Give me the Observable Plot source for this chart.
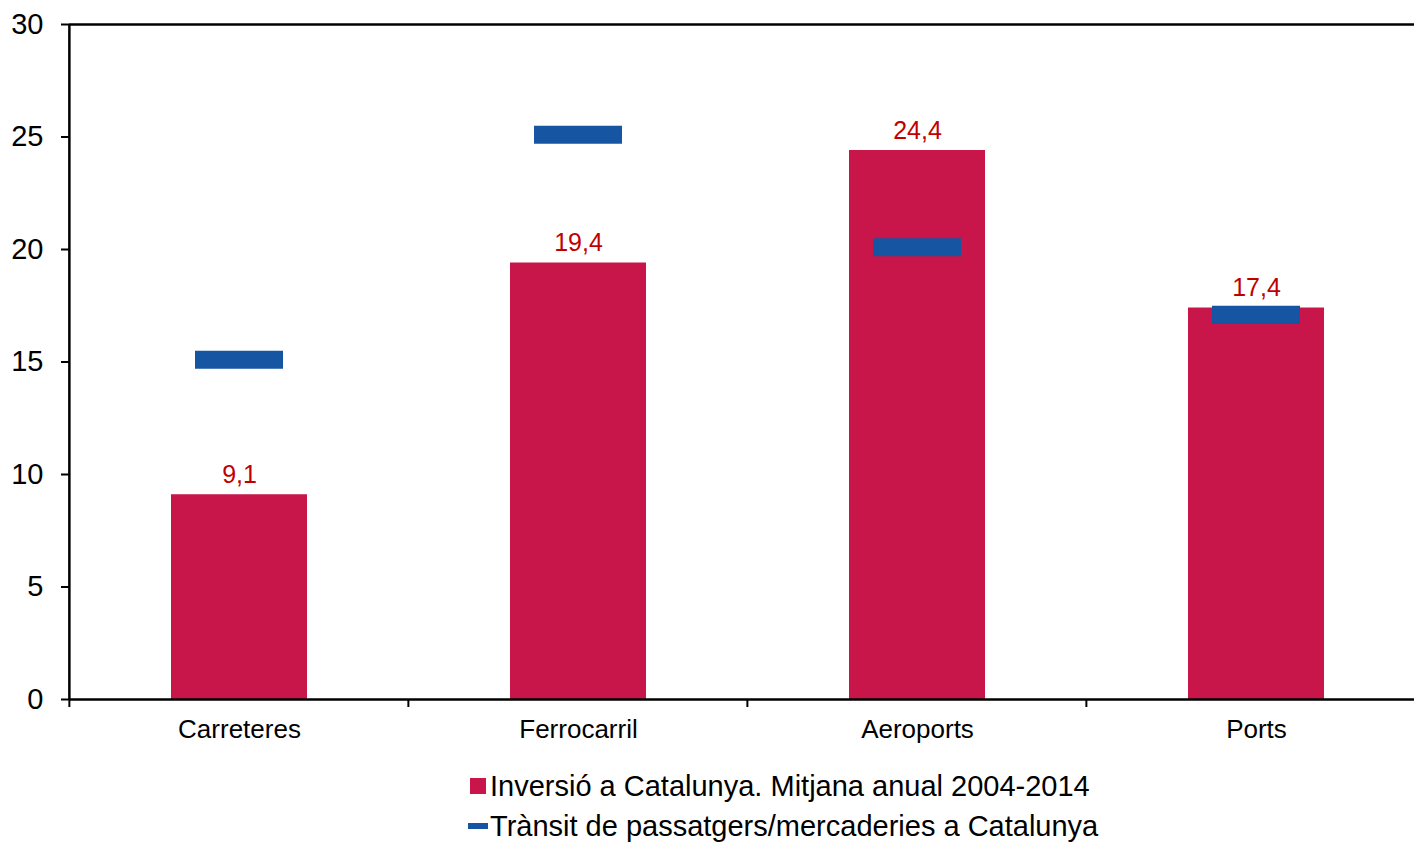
<!DOCTYPE html>
<html>
<head>
<meta charset="utf-8">
<script src="https://cdn.jsdelivr.net/npm/d3@7"></script>
<script src="https://cdn.jsdelivr.net/npm/@observablehq/plot@0.6"></script>
<style>
  html, body { margin: 0; padding: 0; background: #fff; }
  body { width: 1414px; height: 842px; overflow: hidden; font-family: "Liberation Sans", Arial, sans-serif; }
  #chart svg { display: block; overflow: hidden; }
  #legend { position: absolute; left: 466px; top: 766px; font-size: 29px; color: #000; }
  .row { display: flex; align-items: center; height: 40px; }
  .sw { width: 24px; display: flex; justify-content: center; align-items: center; }
</style>
</head>
<body>
<div id="chart"></div>
<div id="legend">
  <div class="row"><span class="sw"><span style="display:inline-block;width:16px;height:16px;background:#C8164A"></span></span><span id="l1"></span></div>
  <div class="row"><span class="sw"><span style="display:inline-block;width:20px;height:6px;background:#1655A2"></span></span><span id="l2"></span></div>
</div>
<script>
const categories = ["Carreteres", "Ferrocarril", "Aeroports", "Ports"];
const investment = [9.1, 19.4, 24.4, 17.4];
const traffic = [15.1, 25.1, 20.1, 17.1];
const yTicks = [0, 5, 10, 15, 20, 25, 30];
const seriesNames = ["Inversió a Catalunya. Mitjana anual 2004-2014", "Trànsit de passatgers/mercaderies a Catalunya"];

document.getElementById("l1").textContent = seriesNames[0];
document.getElementById("l2").textContent = seriesNames[1];

const data = categories.map((c, i) => ({cat: c, inv: investment[i], tr: traffic[i]}));

const width = 1414, marginLeft = 69, marginRight = -12;
const step = (width - marginLeft - marginRight) / categories.length;

const chart = Plot.plot({
  width,
  height: 760,
  marginLeft,
  marginRight,
  marginTop: 24,
  marginBottom: 61,
  style: {fontFamily: "Liberation Sans, Arial, sans-serif", background: "#fff", color: "#000"},
  x: {domain: categories, paddingInner: 0.6, paddingOuter: 0.3, label: null},
  y: {domain: [0, 30], label: null},
  marks: [
    Plot.barY(data, {x: "cat", y: "inv", fill: "#C8164A"}),
    Plot.tickY(data, {x: "cat", y: "tr", stroke: "#1655A2", strokeWidth: 18, insetLeft: 24, insetRight: 24}),
    Plot.text(data, {x: "cat", y: "inv", text: d => d3.format(".1f")(d.inv).replace(".", ","), lineAnchor: "bottom", dy: -12, fill: "#C00000", fontSize: 25}),
    Plot.axisY({ticks: yTicks, tickSize: 8, tickPadding: 18, fontSize: 29, strokeWidth: 2, tickFormat: d => d}),
    Plot.axisX({tickSize: 0, tickPadding: 20, fontSize: 26}),
    Plot.ruleY([0], {stroke: "#000", strokeWidth: 2.5}),
    Plot.ruleY([30], {stroke: "#000", strokeWidth: 2.5})
  ]
});
document.getElementById("chart").appendChild(chart);

// y-axis line and boundary ticks below the x-axis at band edges
const svg = d3.select(chart);
const xs = chart.scale("x");
const ys = chart.scale("y");
const bw = xs.bandwidth;
const edges = categories.map(c => xs.apply(c) - (step - bw) / 2);
edges.push(xs.apply(categories[categories.length - 1]) + bw + (step - bw) / 2);
const y0 = ys.apply(0), y30 = ys.apply(30);
const g = svg.append("g").attr("stroke", "#000").attr("stroke-width", 2);
g.selectAll("line.edge").data(edges).join("line").attr("class", "edge")
  .attr("x1", d => d).attr("x2", d => d)
  .attr("y1", y0).attr("y2", y0 + 8);
g.append("line").attr("x1", edges[0]).attr("x2", edges[0]).attr("y1", y30).attr("y2", y0)
  .attr("stroke-width", 2.5);
</script>
</body>
</html>
